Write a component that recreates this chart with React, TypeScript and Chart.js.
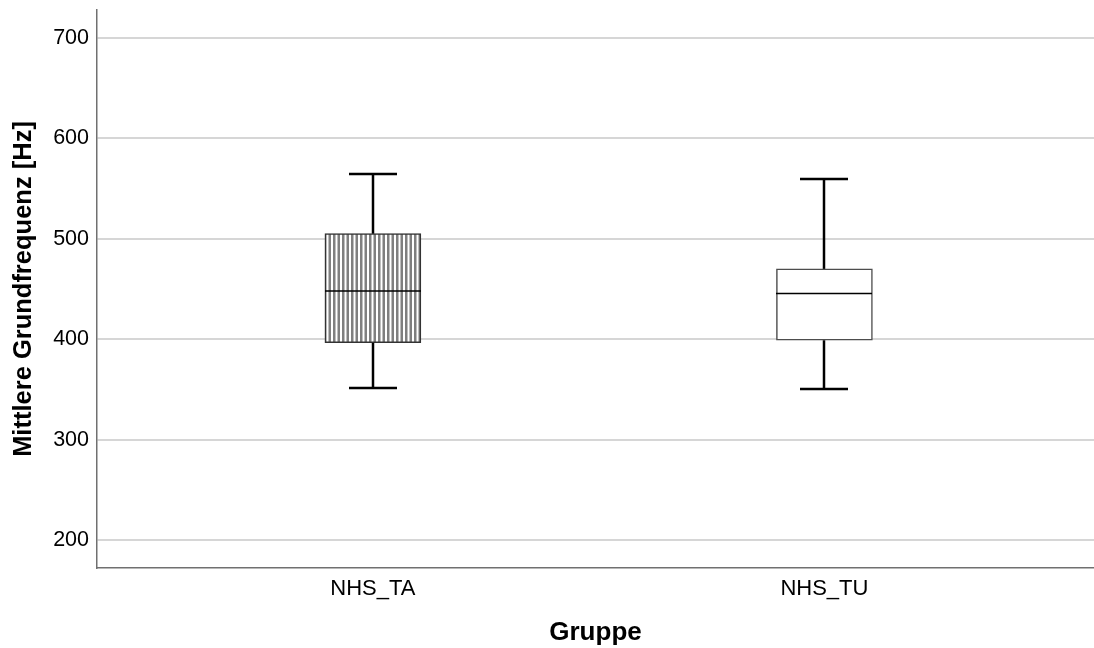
import React, { useEffect, useRef } from 'react';
import { Chart, registerables } from 'chart.js';

Chart.register(...registerables);

// ---- Data ----
const groups = ['NHS_TA', 'NHS_TU'];
const groupPos = [0, 1];
const whiskerMin = [351.5, 350.5];
const q1 = [396.5, 399];
const median = [448, 445.5];
const q3 = [505, 470];
const whiskerMax = [564.5, 559.5];
const yTicks = [200, 300, 400, 500, 600, 700];

const yTitle = 'Mittlere Grundfrequenz [Hz]';
const xTitle = 'Gruppe';

const FONT = "'Liberation Sans', Arial, Helvetica, sans-serif";

const boxPlugin = {
  id: 'boxWhiskers',
  afterDatasetsDraw(chart: any) {
    const meta = chart.getDatasetMeta(0);
    const ys = chart.scales.y;
    const xs = chart.scales.x;
    const ctx = chart.ctx as CanvasRenderingContext2D;
    ctx.save();
    ctx.strokeStyle = '#000';
    ctx.lineCap = 'butt';
    const seg = (x1: number, y1: number, x2: number, y2: number) => {
      ctx.beginPath();
      ctx.moveTo(x1, y1);
      ctx.lineTo(x2, y2);
      ctx.stroke();
    };
    groupPos.forEach((p, i) => {
      const bar = meta.data[i];
      const w = bar.width;
      const x = Math.round(xs.getPixelForValue(p));
      const yMax = ys.getPixelForValue(whiskerMax[i]);
      const yQ3 = ys.getPixelForValue(q3[i]);
      const yQ1 = ys.getPixelForValue(q1[i]);
      const yMin = ys.getPixelForValue(whiskerMin[i]);
      const yMed = ys.getPixelForValue(median[i]);
      ctx.lineWidth = 2.5;
      seg(x, yQ3, x, yMax);
      seg(x, yQ1, x, yMin);
      seg(x - w / 4, yMax, x + w / 4, yMax);
      seg(x - w / 4, yMin, x + w / 4, yMin);
      ctx.lineWidth = 1.5;
      seg(x - w / 2, yMed, x + w / 2, yMed);
    });
    ctx.restore();
  },
};

function makePattern(): CanvasPattern | string {
  const c = document.createElement('canvas');
  c.width = 9;
  c.height = 9;
  const g = c.getContext('2d');
  if (!g) return '#aaaaaa';
  g.fillStyle = '#ffffff';
  g.fillRect(0, 0, 9, 9);
  g.fillStyle = '#7f7f7f';
  g.fillRect(0, 0, 2.5, 9);
  g.fillRect(4.5, 0, 2.5, 9);
  return g.createPattern(c, 'repeat') || '#aaaaaa';
}

export default function App() {
  const ref = useRef<HTMLCanvasElement | null>(null);

  useEffect(() => {
    document.body.style.margin = '0';
    const canvas = ref.current;
    if (!canvas) return;
    const pattern = makePattern();
    const chart = new Chart(canvas, {
      type: 'bar',
      data: {
        datasets: [
          {
            data: groupPos.map((p, i) => ({ x: p, y: [q1[i], q3[i]] })) as any,
            backgroundColor: [pattern, '#ffffff'] as any,
            borderColor: ['#333333', '#4d4d4d'],
            borderWidth: 1.5,
            borderSkipped: false,
            barThickness: 96,
          },
        ],
      },
      options: {
        responsive: false,
        animation: false,
        events: [],
        layout: { padding: { top: 10, left: 0, right: 0, bottom: 0 } },
        plugins: {
          legend: { display: false },
          tooltip: { enabled: false },
        },
        scales: {
          x: {
            type: 'linear',
            offset: false,
            min: -0.611,
            max: 1.597,
            afterBuildTicks: (s: any) => {
              s.ticks = groupPos.map((v) => ({ value: v }));
            },
            afterFit: (s: any) => {
              s.height = 80;
              s.paddingLeft = 0;
              s.paddingRight = 0;
            },
            grid: { display: false, drawTicks: false, offset: false },
            border: { display: true, color: '#707070', width: 1.5 },
            ticks: {
              padding: 8,
              color: '#000',
              font: { family: FONT, size: 22 },
              callback: (_v: any, i: number) => groups[i],
              maxRotation: 0,
              autoSkip: false,
            },
            title: {
              display: true,
              text: xTitle,
              color: '#000',
              font: { family: FONT, size: 26, weight: 'bold' },
              padding: { top: 0, bottom: 0 },
            },
          },
          y: {
            type: 'linear',
            min: 172.5,
            max: 727.5,
            afterBuildTicks: (s: any) => {
              s.ticks = yTicks.map((v) => ({ value: v }));
            },
            afterFit: (s: any) => {
              s.width = 97;
              s.paddingTop = 0;
              s.paddingBottom = 0;
            },
            grid: { color: '#d6d6d6', lineWidth: 2, drawTicks: false },
            border: { display: true, color: '#707070', width: 1.5 },
            ticks: {
              padding: 8,
              color: '#000',
              font: { family: FONT, size: 21.5 },
            },
            title: {
              display: true,
              text: yTitle,
              color: '#000',
              font: { family: FONT, size: 25.5, weight: 'bold' },
              padding: { top: 9, bottom: 0 },
            },
          },
        },
      } as any,
      plugins: [boxPlugin],
    });
    return () => chart.destroy();
  }, []);

  return (
    <div style={{ position: 'absolute', left: 0, top: 0, width: 1094, height: 648 }}>
      <canvas ref={ref} width={1094} height={648} />
    </div>
  );
}
